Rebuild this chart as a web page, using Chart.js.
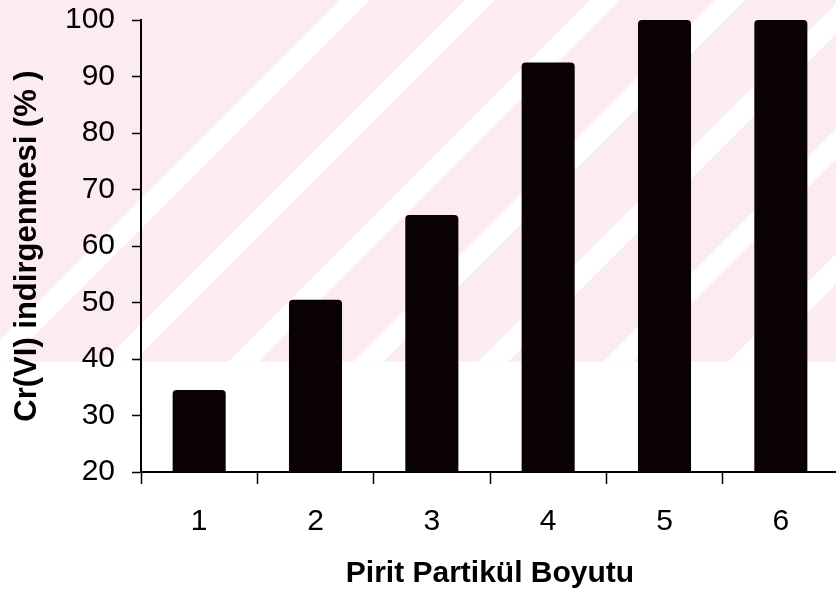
<!DOCTYPE html>
<html>
<head>
<meta charset="utf-8">
<script src="https://cdn.jsdelivr.net/npm/chart.js@4/dist/chart.umd.min.js"></script>
<style>
  html, body { margin: 0; padding: 0; background: #ffffff; overflow: hidden; }
  #wrap { width: 842px; height: 597px; }
</style>
</head>
<body>
<div id="wrap"><canvas id="c" width="842" height="597"></canvas></div>
<script>
// Pyrite particle size classes and Cr(VI) reduction (%)
const sizeClasses = ['1', '2', '3', '4', '5', '6'];
const reductionPct = [34.5, 50.5, 65.5, 92.5, 100, 100];
const yTicks = [20, 30, 40, 50, 60, 70, 80, 90, 100];

const FONT = "'Liberation Sans', Arial, sans-serif";

// Light pink diagonal watermark behind the upper part of the figure
const watermark = {
  id: 'watermark',
  beforeDraw(chart) {
    const ctx = chart.ctx;
    const w = chart.width;
    const bandBottom = chart.scales.y.getPixelForValue(39.5);
    ctx.save();
    ctx.beginPath();
    ctx.rect(0, 0, w, bandBottom);
    ctx.clip();
    ctx.fillStyle = '#fdecef';
    ctx.fillRect(0, 0, w, bandBottom);
    ctx.fillStyle = '#ffffff';
    // white "/" stripes
    for (let c = 340; c < w + bandBottom + 200; c += 125) {
      ctx.beginPath();
      ctx.moveTo(c, 0);
      ctx.lineTo(c + 30, 0);
      ctx.lineTo(c + 30 - bandBottom, bandBottom);
      ctx.lineTo(c - bandBottom, bandBottom);
      ctx.closePath();
      ctx.fill();
    }
    ctx.restore();
  }
};

new Chart(document.getElementById('c'), {
  type: 'bar',
  data: {
    labels: sizeClasses,
    datasets: [{
      data: reductionPct,
      backgroundColor: '#0a0103',
      borderWidth: 0,
      borderRadius: 4,
      borderSkipped: 'start',
      barPercentage: 0.456,
      categoryPercentage: 1.0
    }]
  },
  options: {
    responsive: false,
    animation: false,
    layout: { padding: { top: 20, left: 0, right: 3, bottom: 0 } },
    plugins: {
      legend: { display: false },
      tooltip: { enabled: false }
    },
    scales: {
      x: {
        afterFit(scale) { scale.height = 125; },
        grid: {
          offset: true,
          drawOnChartArea: false,
          drawTicks: true,
          tickLength: 12,
          tickWidth: 1.5,
          color: '#000000'
        },
        border: { display: true, color: '#000000', width: 2 },
        ticks: {
          color: '#000000',
          padding: 20,
          maxRotation: 0,
          font: { family: FONT, size: 30, weight: 'normal' }
        },
        title: {
          display: true,
          text: 'Pirit Partikül Boyutu',
          color: '#000000',
          padding: { top: 0, bottom: 5 },
          font: { family: FONT, size: 30, weight: 'bold', lineHeight: 1.2 }
        }
      },
      y: {
        min: 20,
        max: 100,
        afterFit(scale) {
          scale.width = 141;
          scale.paddingTop = 0;
          scale.paddingBottom = 0;
        },
        afterBuildTicks(scale) { scale.ticks = yTicks.map(v => ({ value: v })); },
        grid: {
          drawOnChartArea: false,
          drawTicks: true,
          tickLength: 9,
          tickWidth: 1.5,
          color: '#000000'
        },
        border: { display: true, color: '#000000', width: 2 },
        ticks: {
          color: '#000000',
          padding: 17,
          font: { family: FONT, size: 30, weight: 'normal' }
        },
        title: {
          display: true,
          text: 'Cr(VI) indirgenmesi (% )',
          color: '#000000',
          padding: { top: 9, bottom: 0 },
          font: { family: FONT, size: 31, weight: 'bold', lineHeight: 1.2 }
        }
      }
    }
  },
  plugins: [watermark]
});
</script>
</body>
</html>
